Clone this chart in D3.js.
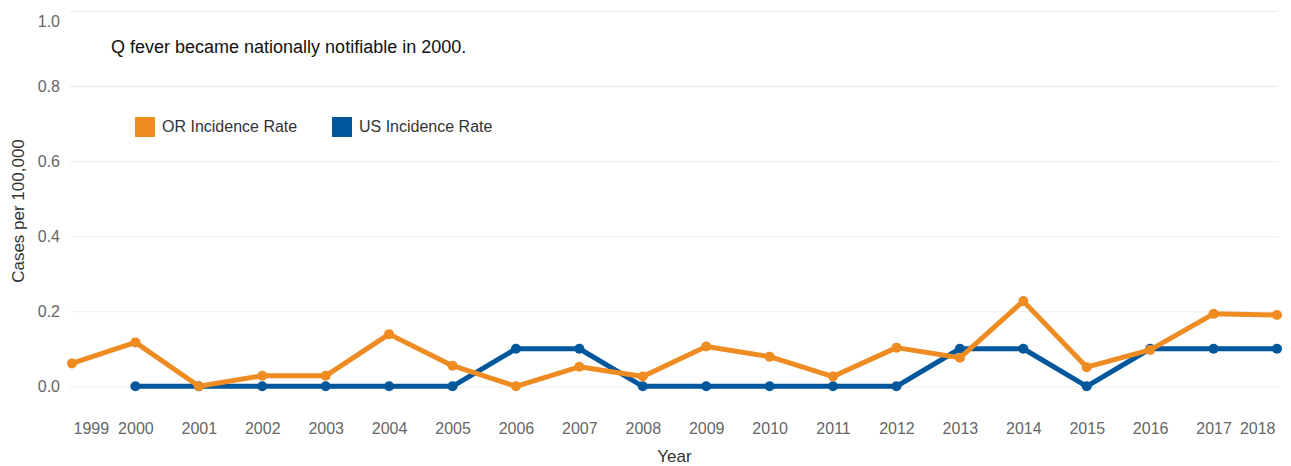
<!DOCTYPE html>
<html>
<head>
<meta charset="utf-8">
<script src="https://cdn.jsdelivr.net/npm/d3@7"></script>
<style>
  html, body { margin: 0; padding: 0; background: #fff; }
  svg { display: block; font-family: Arial, "Liberation Sans", sans-serif; }
</style>
</head>
<body>
<svg id="chart" width="1291" height="466"></svg>
<script>
const years = [1999, 2000, 2001, 2002, 2003, 2004, 2005, 2006, 2007, 2008, 2009, 2010, 2011, 2012, 2013, 2014, 2015, 2016, 2017, 2018];
const orRate = [0.061, 0.117, 0.0, 0.028, 0.028, 0.139, 0.055, 0.0, 0.052, 0.026, 0.106, 0.079, 0.026, 0.103, 0.076, 0.227, 0.051, 0.097, 0.193, 0.190];
const usRate = [null, 0.0, 0.0, 0.0, 0.0, 0.0, 0.0, 0.1, 0.1, 0.0, 0.0, 0.0, 0.0, 0.0, 0.1, 0.1, 0.0, 0.1, 0.1, 0.1];
const yTicks = [0, 0.2, 0.4, 0.6, 0.8, 1.0];
const seriesNames = ["OR Incidence Rate", "US Incidence Rate"];
const seriesColors = ["#EE8B21", "#00579B"];
const noteText = "Q fever became nationally notifiable in 2000.";
const xTitle = "Year";
const yTitle = "Cases per 100,000";

const svg = d3.select("#chart");
const plotL = 72, plotR = 1277, gridL = 70, gridR = 1278;

const x = d3.scalePoint().domain(years).range([plotL, plotR]).padding(0);
const y = d3.scaleLinear().domain([0, 1]).range([386.3, 11]);

// Y axis with gridlines
const yAxis = svg.append("g")
  .attr("transform", `translate(${gridL},0)`)
  .call(d3.axisLeft(y).tickValues(yTicks).tickFormat(d3.format(".1f"))
    .tickSize(-(gridR - gridL)).tickPadding(10));
yAxis.select(".domain").remove();
yAxis.selectAll(".tick line").attr("stroke", "#ebebeb").attr("stroke-width", 1);
yAxis.selectAll(".tick text")
  .attr("fill", "#666").style("font-size", "16px")
  .attr("font-family", "Arial, 'Liberation Sans', sans-serif");
// clamp top label inside the chart
yAxis.selectAll(".tick").each(function(d) {
  const ty = y(d);
  if (ty < 21.5) d3.select(this).select("text").attr("y", 21.5 - ty);
});

// X axis
const xAxis = svg.append("g")
  .attr("transform", "translate(0,386.3)")
  .call(d3.axisBottom(x).tickSize(0).tickPadding(36));
xAxis.select(".domain").remove();
xAxis.selectAll(".tick text")
  .attr("fill", "#666").style("font-size", "16px")
  .attr("font-family", "Arial, 'Liberation Sans', sans-serif");
// clamp edge labels inside the plot area
xAxis.selectAll(".tick").each(function(d) {
  const t = d3.select(this).select("text");
  const w = t.node().getComputedTextLength();
  const cx = x(d);
  let nx = cx;
  if (cx - w / 2 < plotL + 1) nx = plotL + 1 + w / 2;
  if (cx + w / 2 > plotR - 2) nx = plotR - 2 - w / 2;
  t.attr("x", nx - cx);
});

// Axis titles
svg.append("text")
  .attr("x", (plotL + plotR) / 2).attr("y", 462)
  .attr("text-anchor", "middle").attr("fill", "#333")
  .style("font-size", "17px").text(xTitle);
svg.append("text")
  .attr("transform", "translate(24,211) rotate(-90)")
  .attr("text-anchor", "middle").attr("fill", "#333")
  .style("font-size", "17px").text(yTitle);

// Note
svg.append("text")
  .attr("x", 111).attr("y", 53)
  .attr("fill", "#111").style("font-size", "18px").text(noteText);

// Series
const series = [
  { name: seriesNames[1], color: seriesColors[1], values: usRate },
  { name: seriesNames[0], color: seriesColors[0], values: orRate }
];
const line = d3.line()
  .defined(d => d.v != null)
  .x(d => x(d.year)).y(d => y(d.v));

series.forEach(s => {
  const pts = years.map((yr, i) => ({ year: yr, v: s.values[i] }));
  svg.append("path")
    .datum(pts)
    .attr("fill", "none").attr("stroke", s.color)
    .attr("stroke-width", 5).attr("stroke-linejoin", "round")
    .attr("d", line);
  svg.append("g").selectAll("circle")
    .data(pts.filter(p => p.v != null))
    .join("circle")
    .attr("cx", d => x(d.year)).attr("cy", d => y(d.v))
    .attr("r", 5).attr("fill", s.color);
});

// Legend
const legendX = [135, 332];
const legend = svg.append("g");
seriesNames.forEach((n, i) => {
  legend.append("rect")
    .attr("x", legendX[i]).attr("y", 117)
    .attr("width", 20).attr("height", 20)
    .attr("fill", seriesColors[i]);
  legend.append("text")
    .attr("x", legendX[i] + 27).attr("y", 132)
    .attr("fill", "#333").style("font-size", "16px").text(n);
});
</script>
</body>
</html>
